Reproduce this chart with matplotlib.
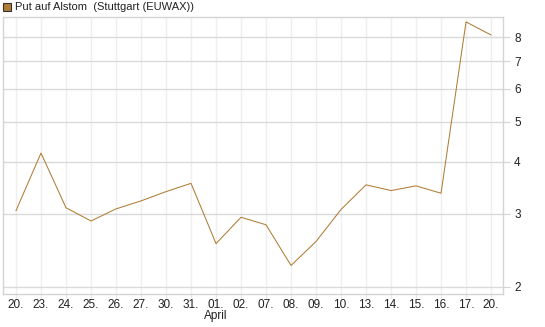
import matplotlib
matplotlib.use("Agg")
import matplotlib.pyplot as plt
from matplotlib.patches import Rectangle
from matplotlib.ticker import FixedLocator, NullLocator

plt.rcParams['font.family'] = ['Liberation Sans', 'DejaVu Sans']

# Kursdaten
dates = ["20.", "23.", "24.", "25.", "26.", "27.", "30.", "31.", "01.", "02.",
         "07.", "08.", "09.", "10.", "13.", "14.", "15.", "16.", "17.", "20."]
prices = [3.05, 4.20, 3.10, 2.88, 3.08, 3.22, 3.39, 3.55, 2.54, 2.94,
          2.82, 2.25, 2.57, 3.07, 3.52, 3.41, 3.50, 3.36, 8.70, 8.09]
yticks = [2, 3, 4, 5, 6, 7, 8]
month_label = "April"
month_pos = 8
title = "Put auf Alstom  (Stuttgart (EUWAX))"

line_color = "#b07d36"
grid_h = "#dadada"
grid_v = "#efefef"

fig = plt.figure(figsize=(5.45, 3.27), dpi=100)
ax = fig.add_axes([0.0055, 0.1009, 0.9175, 0.8471])

x = list(range(len(prices)))
ax.plot(x, prices, color=line_color, lw=0.75, zorder=3)

ax.set_yscale("log")
ax.set_ylim(1.92, 8.94)
ax.set_xlim(-0.52, len(prices) - 0.52)

ax.yaxis.set_major_locator(FixedLocator(yticks))
ax.yaxis.set_minor_locator(NullLocator())
ax.set_yticklabels([str(t) for t in yticks])
ax.yaxis.tick_right()
ax.set_xticks(x)
ax.set_xticklabels(dates)

for t in yticks:
    ax.axhline(t, color=grid_h, lw=1.0, zorder=1)
for xi in x:
    ax.axvline(xi, color=grid_v, lw=1.0, zorder=0)

for s in ax.spines.values():
    s.set_color("#d4d4d4")
    s.set_linewidth(1.0)

ax.tick_params(axis="y", which="both", length=5, color="#d4d4d4",
               labelsize=8.5, pad=3, labelcolor="#222222")
ax.tick_params(axis="x", length=3, color="#e6e6e6",
               labelsize=8.5, pad=0.5, labelcolor="#222222")

ax.text(month_pos, -0.078, month_label, transform=ax.get_xaxis_transform(),
        ha="center", va="center", fontsize=8.5, color="#222222")

# Legende oben links
fig.patches.append(Rectangle((3 / 545, 1 - 11 / 327), 8 / 545, 8 / 327,
                             transform=fig.transFigure, facecolor=line_color,
                             edgecolor="#333333", lw=0.8))
fig.text(15 / 545, 1 - 7 / 327, title, ha="left", va="center",
         fontsize=8, color="#222222")

fig.savefig("out.png", dpi=100)
